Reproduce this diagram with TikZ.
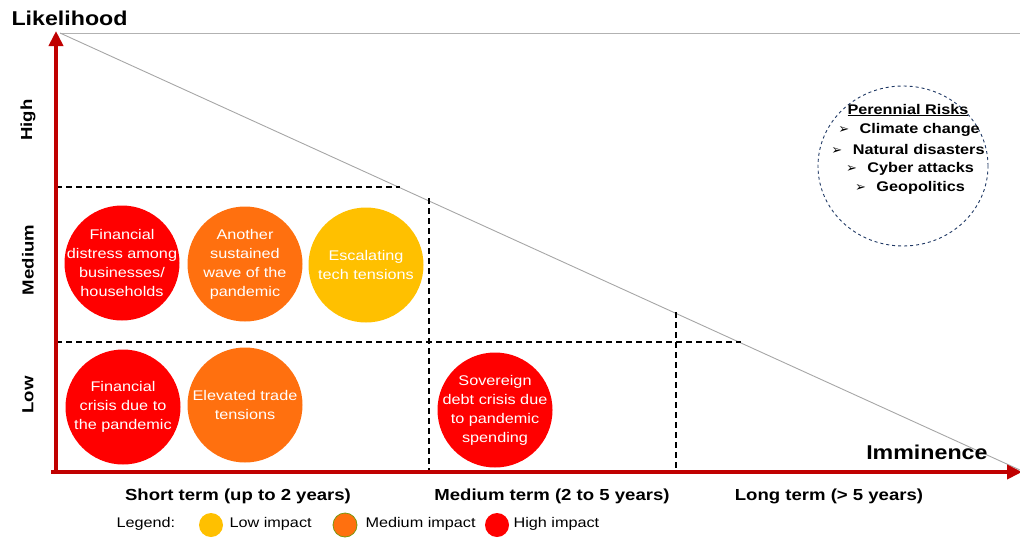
\documentclass[tikz,border=0pt]{standalone}
\usepackage{fontspec}
\setmainfont{Liberation Sans}[FakeStretch=1.16]
\newfontfamily\symfont{DejaVu Sans}
\usetikzlibrary{arrows.meta,shapes.geometric}
\definecolor{axred}{HTML}{C00000}
\definecolor{hired}{HTML}{FF0000}
\definecolor{medor}{HTML}{FF700F}
\definecolor{lowyel}{HTML}{FFC000}
\definecolor{navy}{HTML}{1F3864}
\tikzset{
  axis/.style={axred, line width=4pt, -{Triangle[length=15pt,width=14pt]}},
  grid/.style={black, line width=1.3pt, dash pattern=on 6pt off 4pt},
  riskc/.style={circle, minimum size=115pt, inner sep=0pt},
  risktext/.style={align=center, text=white, inner sep=0pt, font=\fontsize{14}{19}\selectfont},
  lvl/.style={rotate=90, font=\bfseries\fontsize{16}{19}\selectfont},
  term/.style={font=\bfseries\fontsize{16}{19}\selectfont},
  leg/.style={font=\fontsize{14}{17}\selectfont, anchor=west},
  legdot/.style={circle, minimum size=24pt, inner sep=0pt},
  perline/.style={font=\bfseries\fontsize{14}{17}\selectfont},
}
\newcommand{\pbul}{{\symfont\fontsize{13}{14}\selectfont ➢}\hspace{0.75em}}
\begin{document}
\begin{tikzpicture}[x=1pt,y=-1pt]
\useasboundingbox (0,0) rectangle (1020,538);
% reference lines
\coordinate (TL) at (60,33);
\coordinate (TR) at (1020,33);
\coordinate (BR) at (1020,470);
\draw[gray!60, line width=0.9pt] (TL) -- (TR);
\draw[gray!70, line width=0.9pt] (TL) -- (BR);
% grid
\coordinate (h1a) at (56,187); \coordinate (h1b) at (400,187);
\coordinate (h2a) at (56,342); \coordinate (h2b) at (741,342);
\coordinate (v1a) at (429,198); \coordinate (v1b) at (429,470);
\coordinate (v2a) at (676,312); \coordinate (v2b) at (676,470);
\draw[grid] (h1a) -- (h1b);
\draw[grid] (h2a) -- (h2b);
\draw[grid] (v1a) -- (v1b);
\draw[grid] (v2a) -- (v2b);
% axes
\coordinate (Ybot) at (56,474);
\coordinate (Ytop) at (56,31);
\coordinate (Xend) at (1022,472);
\coordinate (Ox) at (51,472);
\draw[axis] (Ybot) -- (Ytop);
\draw[axis] (Ox) -- (Xend);
% axis titles
\node[font=\bfseries\fontsize{20}{24}\selectfont, anchor=west] (lik) at (8,18) {Likelihood};
\node[font=\bfseries\fontsize{20}{24}\selectfont, anchor=east] (imm) at (991,452) {Imminence};
\node[lvl] (high) at (28,120) {High};
\node[lvl] (med) at (28,260) {Medium};
\node[lvl] (low) at (28,395) {Low};
\node[term] (st) at (238,496) {Short term (up to 2 years)};
\node[term] (mt) at (552,496) {Medium term (2 to 5 years)};
\node[term] (lt) at (829,496) {Long term (> 5 years)};
% risk circles
\node[riskc, fill=hired] (fd) at (122,263) {};
\node[risktext] (fdt) at (fd) {Financial\\distress among\\businesses/\\households};
\node[riskc, fill=medor] (asw) at (245,264) {};
\node[risktext] (aswt) at (asw) {Another\\sustained\\wave of the\\pandemic};
\node[riskc, fill=lowyel] (ett) at (366,265) {};
\node[risktext] (ettt) at (ett) {Escalating\\tech tensions};
\node[riskc, fill=hired] (fc) at (123,407) {};
\node[risktext] (fct) at (fc) {Financial\\crisis due to\\the pandemic};
\node[riskc, fill=medor] (etr) at (245,405) {};
\node[risktext] (etrt) at (etr) {Elevated trade\\tensions};
\node[riskc, fill=hired] (sd) at (495,410) {};
\node[risktext] (sdt) at (sd) {Sovereign\\debt crisis due\\to pandemic\\spending};
% perennial risks
\node[ellipse, draw=navy, dashed, line width=0.9pt, minimum width=170pt, minimum height=160pt, inner sep=0pt] (per) at (903,166) {};
\node[perline] (pt) at (908,110) {\underline{Perennial Risks}};
\node[perline] (p1) at (909,130) {\pbul Climate change};
\node[perline] (p2) at (908,149) {\pbul Natural disasters};
\node[perline] (p3) at (910,169) {\pbul Cyber attacks};
\node[perline] (p4) at (910,188) {\pbul Geopolitics};
% legend
\node[leg] (legt) at (113,524) {Legend:};
\node[legdot, fill=lowyel] (ld1) at (211,525) {};
\node[leg] (l1) at (226,524) {Low impact};
\node[legdot, fill=medor, draw=olive!70!green, line width=0.8pt] (ld2) at (345,525) {};
\node[leg] (l2) at (362,524) {Medium impact};
\node[legdot, fill=hired] (ld3) at (497,525) {};
\node[leg] (l3) at (510,524) {High impact};
\end{tikzpicture}
\end{document}
